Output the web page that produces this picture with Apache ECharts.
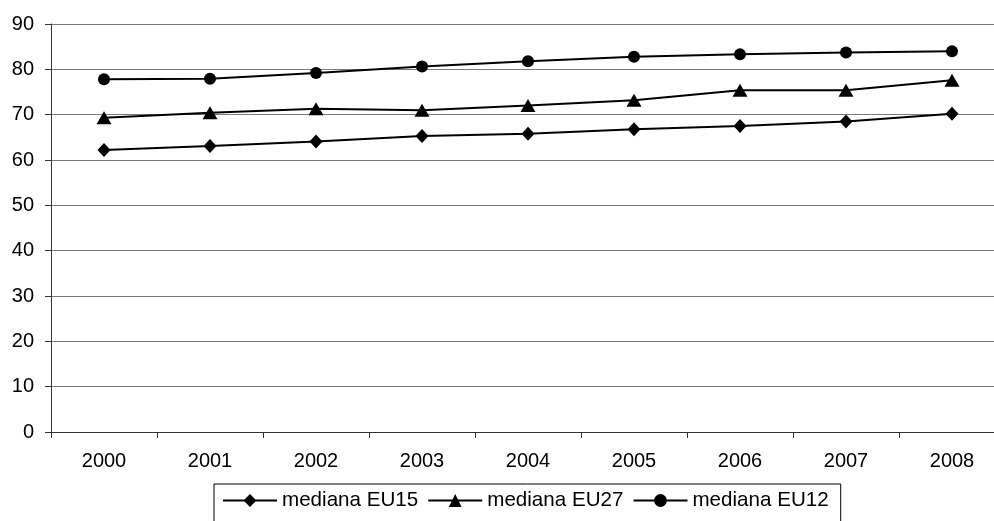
<!DOCTYPE html>
<html>
<head>
<meta charset="utf-8">
<script src="https://cdn.jsdelivr.net/npm/echarts@6/dist/echarts.min.js"></script>
<style>
html,body{margin:0;padding:0;background:#fff;overflow:hidden;width:994px;height:521px;}
#c{width:1005px;height:521px;}
</style>
</head>
<body>
<div id="c"></div>
<script>
var years = ['2000','2001','2002','2003','2004','2005','2006','2007','2008'];
var eu15 = [62.2, 63.1, 64.1, 65.3, 65.8, 66.8, 67.5, 68.5, 70.2];
var eu27 = [69.3, 70.4, 71.3, 71.0, 72.0, 73.2, 75.4, 75.4, 77.6];
var eu12 = [77.8, 77.9, 79.2, 80.6, 81.8, 82.8, 83.3, 83.7, 84.0];
var seriesNames = ['mediana EU15', 'mediana EU27', 'mediana EU12'];

var font = 'Liberation Sans, Arial, sans-serif';
var chart = echarts.init(document.getElementById('c'), null, {renderer: 'canvas'});

function mk(name, data, symbol, size) {
  return {
    name: name,
    type: 'line',
    data: data,
    symbol: symbol,
    symbolSize: size,
    showAllSymbol: true,
    animation: false,
    lineStyle: {color: '#000', width: 2},
    itemStyle: {color: '#000', borderWidth: 0},
    emphasis: {disabled: true}
  };
}

chart.setOption({
  backgroundColor: '#fff',
  animation: false,
  grid: {left: 51, top: 24, right: 0, bottom: 89, containLabel: false},
  xAxis: {
    type: 'category',
    data: years,
    boundaryGap: true,
    axisLine: {lineStyle: {color: '#333', width: 1}},
    axisTick: {show: true, length: 6, lineStyle: {color: '#333'}},
    axisLabel: {color: '#000', fontFamily: font, fontSize: 20, margin: 19},
    splitLine: {show: false}
  },
  yAxis: {
    type: 'value',
    min: 0, max: 90, interval: 10,
    axisLine: {show: true, lineStyle: {color: '#333', width: 1}},
    axisTick: {show: true, length: 6, lineStyle: {color: '#333'}},
    axisLabel: {color: '#000', fontFamily: font, fontSize: 20, margin: 17},
    splitLine: {show: true, lineStyle: {color: '#7a7a7a', width: 1}}
  },
  legend: {
    left: 214,
    top: 484,
    orient: 'horizontal',
    itemWidth: 54,
    itemHeight: 16,
    itemGap: 9,
    padding: [6, 12, 20, 8],
    borderColor: '#000',
    borderWidth: 1,
    selectedMode: false,
    textStyle: {color: '#000', fontFamily: font, fontSize: 20.6, padding: [0,0,0,0]},
    data: seriesNames
  },
  series: [
    mk(seriesNames[0], eu15, 'diamond', [13, 14]),
    mk(seriesNames[1], eu27, 'triangle', [15, 13]),
    mk(seriesNames[2], eu12, 'circle', 12)
  ]
});
</script>
</body>
</html>
